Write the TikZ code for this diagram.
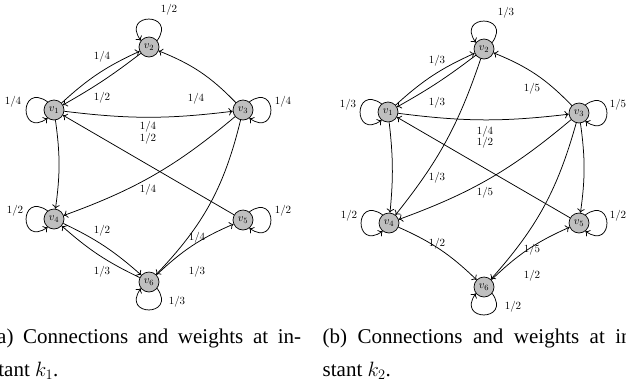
\documentclass[tikz,border=0pt]{standalone}
\usepackage{fontspec}
\setmainfont{Liberation Serif}
\usetikzlibrary{arrows.meta}
\begin{document}
\begin{tikzpicture}[x=1pt,y=1pt,
  vtx/.style={circle,draw,line width=0.7pt,fill=black!25,minimum size=20pt,inner sep=0pt,font=\fontsize{11}{13}\selectfont},
  arr/.style={-{To[length=4pt,width=7.5pt]},line width=0.75pt},
  wl/.style={font=\fontsize{10.5}{12}\selectfont,inner sep=0pt},
  captext/.style={anchor=base west,inner sep=0pt,font=\fontsize{21}{33}\selectfont}]
\useasboundingbox (0,0) rectangle (626,-381);
\clip (0,0) rectangle (626,-381);

% ---------- graph (a) ----------
\node[vtx] (a1) at (54,-110) {$v_1$};
\node[vtx] (a2) at (149,-47) {$v_2$};
\node[vtx] (a3) at (243,-110) {$v_3$};
\node[vtx] (a4) at (54,-219) {$v_4$};
\node[vtx] (a5) at (243,-220) {$v_5$};
\node[vtx] (a6) at (149,-282) {$v_6$};

\draw[arr] (a2.38) .. controls +(55:35) and +(125:35) .. (a2.142);
\draw[arr] (a1.128) .. controls +(145:35) and +(-145:35) .. (a1.-128);
\draw[arr] (a4.128) .. controls +(145:35) and +(-145:35) .. (a4.-128);
\draw[arr] (a3.52) .. controls +(35:35) and +(-35:35) .. (a3.-52);
\draw[arr] (a5.52) .. controls +(35:35) and +(-35:35) .. (a5.-52);
\draw[arr] (a6.-38) .. controls +(-55:35) and +(-125:35) .. (a6.-142);

\draw[arr] (a1) to[bend left=9] (a2);
\draw[arr] (a2) to[bend left=4] (a1);
\draw[arr] (a3) to[bend right=12] (a2);
\draw[arr] (a1) to[bend right=7] (a3);
\draw[arr] (a5) -- (a1);
\draw[arr] (a1) to[bend left=8] (a4);
\draw[arr] (a3) to[bend left=10] (a4);
\draw[arr] (a3) to[bend left=15] (a6);
\draw[arr] (a4) to[bend left=8] (a6);
\draw[arr] (a6) to[bend left=8] (a4);
\draw[arr] (a6) to[bend left=10] (a5);

\node[wl] (la1) at (169,-10) {$1/2$};
\node[wl] (la2) at (13,-102) {$1/4$};
\node[wl] (la3) at (283,-102) {$1/4$};
\node[wl] (la4) at (15,-211) {$1/2$};
\node[wl] (la5) at (283,-211) {$1/2$};
\node[wl] (la6) at (177,-302) {$1/3$};
\node[wl] (la7) at (102,-57) {$1/4$};
\node[wl] (la8) at (102,-98) {$1/2$};
\node[wl] (la9) at (196,-99) {$1/4$};
\node[wl] (la10) at (148,-127) {$1/4$};
\node[wl] (la11) at (148,-139) {$1/2$};
\node[wl] (la12) at (148,-190) {$1/4$};
\node[wl] (la13) at (102,-231) {$1/2$};
\node[wl] (la14) at (197,-238) {$1/4$};
\node[wl] (la15) at (102,-272) {$1/3$};
\node[wl] (la16) at (197,-272) {$1/3$};

% ---------- graph (b) ----------
\node[vtx] (b1) at (388,-112) {$v_1$};
\node[vtx] (b2) at (484,-49) {$v_2$};
\node[vtx] (b3) at (579,-113) {$v_3$};
\node[vtx] (b4) at (389,-223) {$v_4$};
\node[vtx] (b5) at (579,-223) {$v_5$};
\node[vtx] (b6) at (484,-287) {$v_6$};

\draw[arr] (b2.38) .. controls +(55:35) and +(125:35) .. (b2.142);
\draw[arr] (b1.128) .. controls +(145:35) and +(-145:35) .. (b1.-128);
\draw[arr] (b4.128) .. controls +(145:35) and +(-145:35) .. (b4.-128);
\draw[arr] (b3.52) .. controls +(35:35) and +(-35:35) .. (b3.-52);
\draw[arr] (b5.52) .. controls +(35:35) and +(-35:35) .. (b5.-52);
\draw[arr] (b6.-38) .. controls +(-55:35) and +(-125:35) .. (b6.-142);

\draw[arr] (b1) to[bend left=9] (b2);
\draw[arr] (b2) to[bend left=4] (b1);
\draw[arr] (b3) to[bend right=12] (b2);
\draw[arr] (b1) to[bend right=7] (b3);
\draw[arr] (b5) -- (b1);
\draw[arr] (b1) to[bend left=6] (b4);
\draw[arr] (b2) to[bend left=10] (b4);
\draw[arr] (b3) to[bend left=10] (b4);
\draw[arr] (b3) to[bend left=13] (b6);
\draw[arr] (b3) to[bend left=8] (b5);
\draw[arr] (b4) to[bend left=10] (b6);
\draw[arr] (b6) to[bend left=10] (b5);

\node[wl] (lb1) at (506,-13) {$1/3$};
\node[wl] (lb2) at (348,-105) {$1/3$};
\node[wl] (lb3) at (618,-105) {$1/5$};
\node[wl] (lb4) at (349,-216) {$1/2$};
\node[wl] (lb5) at (618,-216) {$1/2$};
\node[wl] (lb6) at (513,-307) {$1/2$};
\node[wl] (lb7) at (437,-61) {$1/3$};
\node[wl] (lb8) at (437,-103) {$1/3$};
\node[wl] (lb9) at (532,-89) {$1/5$};
\node[wl] (lb10) at (485,-132) {$1/4$};
\node[wl] (lb11) at (485,-143) {$1/2$};
\node[wl] (lb12) at (437,-178) {$1/3$};
\node[wl] (lb13) at (485,-193) {$1/5$};
\node[wl] (lb14) at (437,-244) {$1/2$};
\node[wl] (lb15) at (532,-250) {$1/5$};
\node[wl] (lb16) at (532,-276) {$1/2$};

% ---------- captions ----------
\node[captext] (capa) at (-10,-343) {\parbox[t]{311pt}{(a) Connections and weights at in-\linebreak stant $k_1$.}};
\node[captext] (capb) at (322.5,-343) {\parbox[t]{316pt}{(b) Connections and weights at in-\linebreak stant $k_2$.}};
\end{tikzpicture}
\end{document}
